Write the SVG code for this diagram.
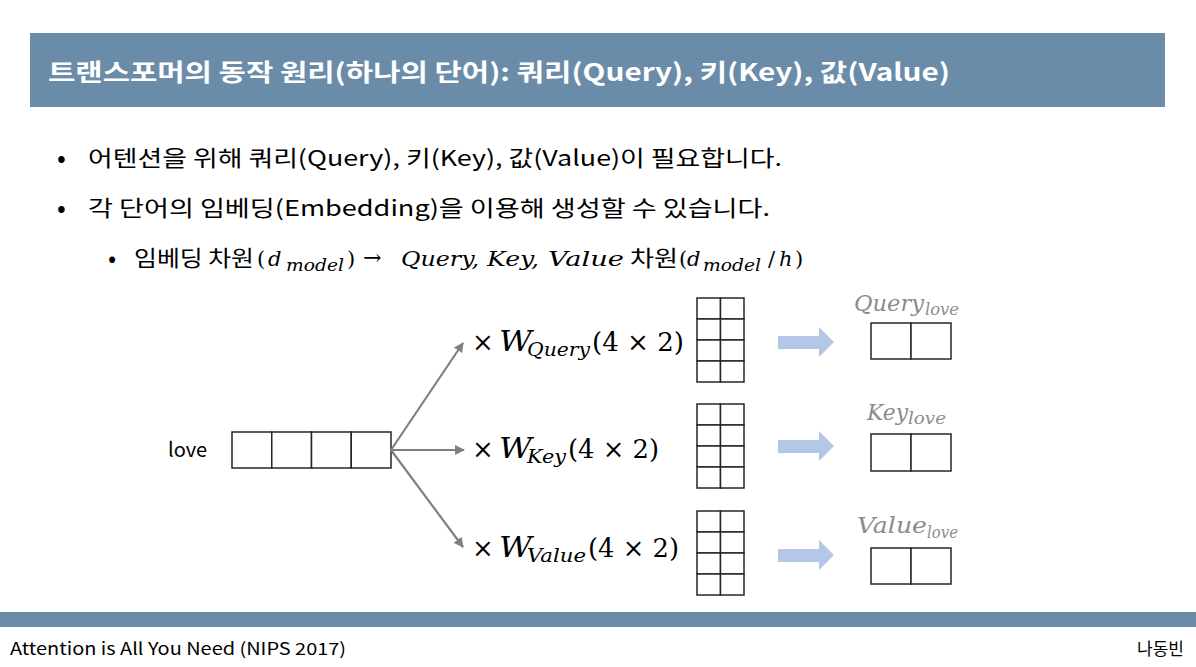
<svg xmlns="http://www.w3.org/2000/svg" width="1196" height="667" viewBox="0 0 1196 667">
<defs>
<style>
.kr{font-family:"Noto Sans CJK KR","Noto Sans",sans-serif;fill:#000}
.title{font-family:"Noto Sans CJK KR","Noto Sans",sans-serif;font-weight:bold;fill:#fff;font-size:24px}
.m{font-family:"DejaVu Serif","Liberation Serif",serif;fill:#000}
.mi{font-family:"DejaVu Serif","Liberation Serif",serif;font-style:italic;fill:#000}
.gi{font-family:"DejaVu Serif","Liberation Serif",serif;font-style:italic;fill:#8c8c8c}
.cell{fill:#fff;stroke:#262626;stroke-width:1.5}
.conn{stroke:#808080;stroke-width:2.2;fill:none}
.big{fill:#b4c7e7}
</style>
<marker id="ah" viewBox="0 0 10 10" refX="9" refY="5" markerWidth="4.5" markerHeight="4.5" orient="auto" markerUnits="strokeWidth">
<path d="M0,0 L10,5 L0,10 z" fill="#808080"/>
</marker>
</defs>
<rect width="1196" height="667" fill="#fff"/>

<g id="header">
<rect x="30" y="33" width="1135" height="74" fill="#6a8ca8"/>
<text class="title" x="48" y="81" textLength="902" lengthAdjust="spacingAndGlyphs">트랜스포머의 동작 원리(하나의 단어): 쿼리(Query), 키(Key), 값(Value)</text>
</g>

<g id="bullets">
<text class="kr" x="57" y="167" font-size="26">•</text>
<text class="kr" x="88" y="166" font-size="22" textLength="694" lengthAdjust="spacingAndGlyphs">어텐션을 위해 쿼리(Query), 키(Key), 값(Value)이 필요합니다.</text>
<text class="kr" x="57" y="217" font-size="26">•</text>
<text class="kr" x="88" y="216" font-size="22" textLength="682" lengthAdjust="spacingAndGlyphs">각 단어의 임베딩(Embedding)을 이용해 생성할 수 있습니다.</text>
<text class="kr" x="108" y="267" font-size="24">•</text>
<text class="kr" x="134" y="266" font-size="22" textLength="120" lengthAdjust="spacingAndGlyphs">임베딩 차원</text>
<text class="m" x="257" y="266" font-size="21">(</text>
<text class="mi" x="268" y="266" font-size="21">d</text>
<text class="mi" x="286" y="271" font-size="16" textLength="58" lengthAdjust="spacingAndGlyphs">model</text>
<text class="m" x="347" y="266" font-size="21">)</text>
<text class="m" x="363" y="265" font-size="22">→</text>
<text class="mi" x="401" y="266" font-size="21" textLength="78" lengthAdjust="spacingAndGlyphs">Query,</text>
<text class="mi" x="487" y="266" font-size="21" textLength="52" lengthAdjust="spacingAndGlyphs">Key,</text>
<text class="mi" x="548" y="266" font-size="21" textLength="76" lengthAdjust="spacingAndGlyphs">Value</text>
<text class="kr" x="630" y="266" font-size="22" textLength="48" lengthAdjust="spacingAndGlyphs">차원</text>
<text class="m" x="679" y="266" font-size="21">(</text>
<text class="mi" x="687" y="266" font-size="21">d</text>
<text class="mi" x="703" y="271" font-size="16" textLength="58" lengthAdjust="spacingAndGlyphs">model</text>
<text class="m" x="768" y="266" font-size="21">/</text>
<text class="mi" x="779" y="266" font-size="21">h</text>
<text class="m" x="795" y="266" font-size="21">)</text>
</g>

<g id="love">
<text class="kr" x="168" y="457" font-size="20">love</text>
<rect class="cell" x="232" y="432" width="39.75" height="36"/>
<rect class="cell" x="271.75" y="432" width="39.75" height="36"/>
<rect class="cell" x="311.5" y="432" width="39.75" height="36"/>
<rect class="cell" x="351.25" y="432" width="39.75" height="36"/>
</g>

<g id="connectors">
<line class="conn" x1="391" y1="450" x2="463" y2="343" marker-end="url(#ah)"/>
<line class="conn" x1="391" y1="450" x2="464" y2="450" marker-end="url(#ah)"/>
<line class="conn" x1="391" y1="450" x2="463" y2="547" marker-end="url(#ah)"/>
<path class="big" d="M778,336 H819 V327 L834,342 L819,357 V349 H778 z"/>
<path class="big" d="M778,440 H819 V431 L834,446 L819,461 V453 H778 z"/>
<path class="big" d="M778,549 H819 V540 L834,555 L819,570 V562 H778 z"/>
</g>

<g id="wquery">
<text class="m" x="472" y="351" font-size="26">×</text>
<text class="mi" x="499" y="351" font-size="27" textLength="33" lengthAdjust="spacingAndGlyphs">W</text>
<text class="mi" x="527" y="356" font-size="19" textLength="63" lengthAdjust="spacingAndGlyphs">Query</text>
<text class="m" x="592" y="351" font-size="26" textLength="92" lengthAdjust="spacingAndGlyphs">(4 × 2)</text>
<g>
<rect class="cell" x="697" y="298" width="23.5" height="21"/><rect class="cell" x="720.5" y="298" width="23.5" height="21"/>
<rect class="cell" x="697" y="319" width="23.5" height="21"/><rect class="cell" x="720.5" y="319" width="23.5" height="21"/>
<rect class="cell" x="697" y="340" width="23.5" height="21"/><rect class="cell" x="720.5" y="340" width="23.5" height="21"/>
<rect class="cell" x="697" y="361" width="23.5" height="21"/><rect class="cell" x="720.5" y="361" width="23.5" height="21"/>
</g>
</g>

<g id="wkey">
<text class="m" x="472" y="458" font-size="26">×</text>
<text class="mi" x="499" y="458" font-size="27" textLength="33" lengthAdjust="spacingAndGlyphs">W</text>
<text class="mi" x="527" y="463" font-size="19" textLength="39" lengthAdjust="spacingAndGlyphs">Key</text>
<text class="m" x="568" y="458" font-size="26" textLength="91" lengthAdjust="spacingAndGlyphs">(4 × 2)</text>
<g>
<rect class="cell" x="697" y="404" width="23.5" height="21"/><rect class="cell" x="720.5" y="404" width="23.5" height="21"/>
<rect class="cell" x="697" y="425" width="23.5" height="21"/><rect class="cell" x="720.5" y="425" width="23.5" height="21"/>
<rect class="cell" x="697" y="446" width="23.5" height="21"/><rect class="cell" x="720.5" y="446" width="23.5" height="21"/>
<rect class="cell" x="697" y="467" width="23.5" height="21"/><rect class="cell" x="720.5" y="467" width="23.5" height="21"/>
</g>
</g>

<g id="wvalue">
<text class="m" x="472" y="557" font-size="26">×</text>
<text class="mi" x="499" y="557" font-size="27" textLength="33" lengthAdjust="spacingAndGlyphs">W</text>
<text class="mi" x="527" y="562" font-size="19" textLength="59" lengthAdjust="spacingAndGlyphs">Value</text>
<text class="m" x="588" y="557" font-size="26" textLength="91" lengthAdjust="spacingAndGlyphs">(4 × 2)</text>
<g>
<rect class="cell" x="697" y="511" width="23.5" height="21"/><rect class="cell" x="720.5" y="511" width="23.5" height="21"/>
<rect class="cell" x="697" y="532" width="23.5" height="21"/><rect class="cell" x="720.5" y="532" width="23.5" height="21"/>
<rect class="cell" x="697" y="553" width="23.5" height="21"/><rect class="cell" x="720.5" y="553" width="23.5" height="21"/>
<rect class="cell" x="697" y="574" width="23.5" height="21"/><rect class="cell" x="720.5" y="574" width="23.5" height="21"/>
</g>
</g>

<g id="qlove">
<text class="gi" x="854" y="311" font-size="22" textLength="70" lengthAdjust="spacingAndGlyphs">Query</text>
<text class="gi" x="925" y="315" font-size="16" textLength="34" lengthAdjust="spacingAndGlyphs">love</text>
<rect class="cell" x="871" y="323" width="40" height="36"/>
<rect class="cell" x="911" y="323" width="40" height="36"/>
</g>

<g id="klove">
<text class="gi" x="867" y="420" font-size="22" textLength="41" lengthAdjust="spacingAndGlyphs">Key</text>
<text class="gi" x="908" y="424" font-size="16" textLength="38" lengthAdjust="spacingAndGlyphs">love</text>
<rect class="cell" x="871" y="434" width="40" height="37"/>
<rect class="cell" x="911" y="434" width="40" height="37"/>
</g>

<g id="vlove">
<text class="gi" x="857" y="533" font-size="22" textLength="70" lengthAdjust="spacingAndGlyphs">Value</text>
<text class="gi" x="927" y="538" font-size="16" textLength="31" lengthAdjust="spacingAndGlyphs">love</text>
<rect class="cell" x="871" y="548" width="40" height="36"/>
<rect class="cell" x="911" y="548" width="40" height="36"/>
</g>

<g id="footer">
<rect x="0" y="612" width="1196" height="15" fill="#6a8ca8"/>
<text class="kr" x="10" y="655" font-size="17" textLength="336" lengthAdjust="spacingAndGlyphs">Attention is All You Need (NIPS 2017)</text>
<text class="kr" x="1184" y="655" font-size="17" text-anchor="end">나동빈</text>
</g>
</svg>
